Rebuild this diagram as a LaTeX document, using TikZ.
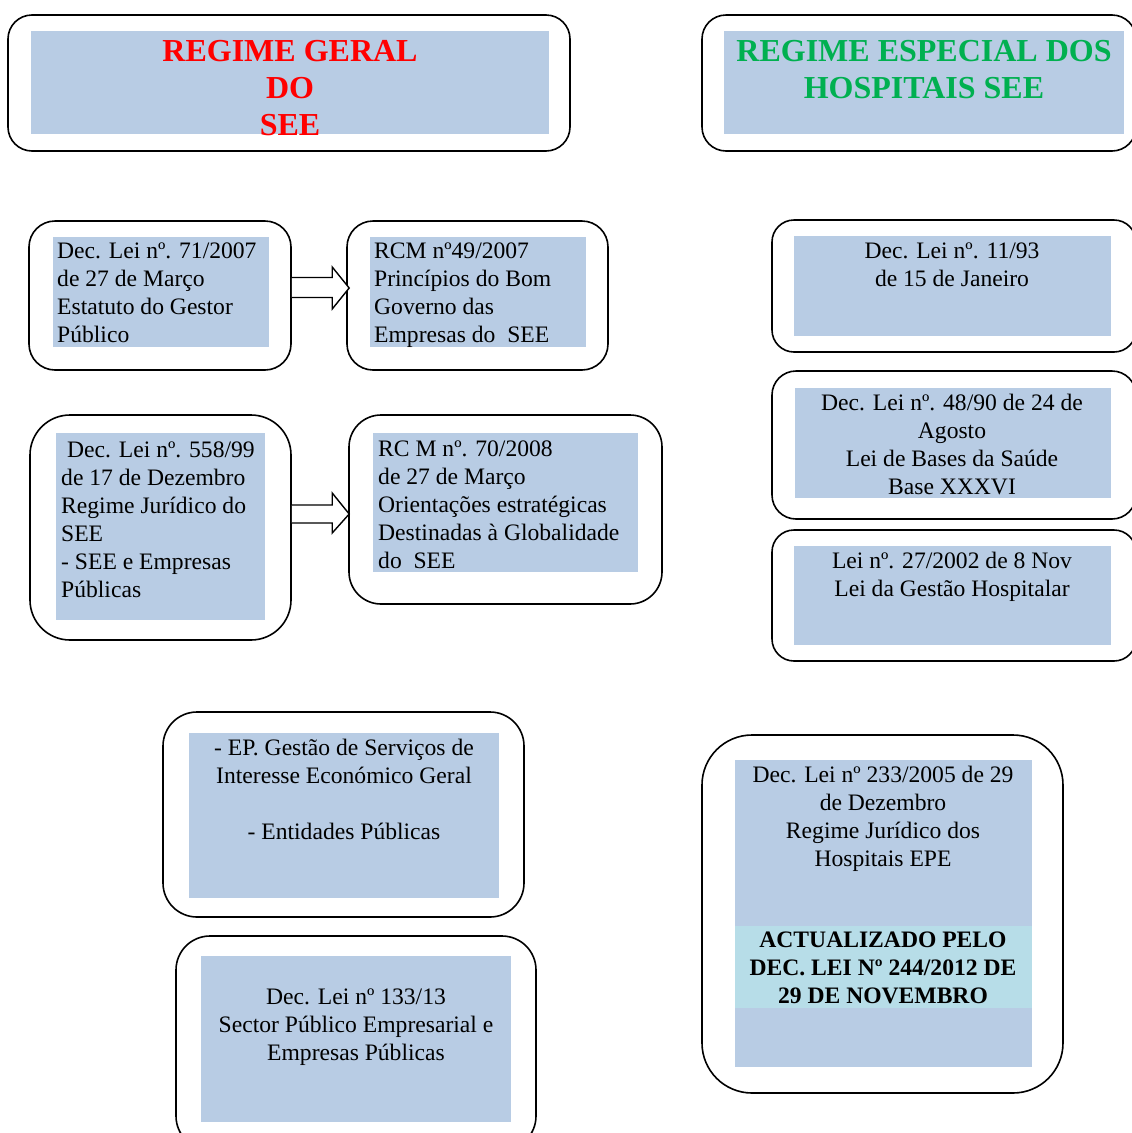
\documentclass[tikz,border=0pt]{standalone}
\usepackage{fontspec}
\setmainfont{Liberation Serif}
\usetikzlibrary{fit,calc}
\definecolor{boxblue}{HTML}{B8CCE4}
\definecolor{bandcyan}{HTML}{B7DDE8}
\definecolor{titlered}{HTML}{FF0000}
\definecolor{titlegreen}{HTML}{00B050}
\begin{document}
\begin{tikzpicture}[x=1pt,y=-1pt,
  outerbox/.style={draw=black, line width=1.6pt, inner sep=0pt, fill=white},
  innerbox/.style={fill=boxblue, inner sep=0pt},
  bandbox/.style={fill=bandcyan, inner sep=0pt},
  body/.style={inner sep=0pt, font=\fontsize{23.6}{28}\selectfont, execute at begin node=\strut},
  bodyL/.style={body, align=left, anchor=north west},
  bodyC/.style={body, align=center, anchor=north},
  titletext/.style={inner sep=0pt, align=center, anchor=north, font=\fontsize{32}{37}\selectfont\bfseries, execute at begin node=\strut},
  blockarrow/.style={draw=black, line width=1.4pt, fill=white, line join=miter}]
\useasboundingbox (0,0) rectangle (1132,1133);
\clip (0,0) rectangle (1132,1133);

% ---- titles
\node[outerbox, rounded corners=24pt, fit={(8,15) (570,151)}] (tL) {};
\node[innerbox, fit={(31,31) (549,134)}] (tLi) {};
\node[titletext, text=titlered] (tLt) at (290,40) {REGIME GERAL\\DO\\SEE};

\node[outerbox, rounded corners=24pt, fit={(702,15) (1136,151)}] (tR) {};
\node[innerbox, fit={(724,31) (1124,134)}] (tRi) {};
\node[titletext, text=titlegreen] (tRt) at (924,40) {REGIME ESPECIAL DOS\\HOSPITAIS SEE};

% ---- left column
\node[outerbox, rounded corners=26pt, fit={(29,221) (291,370)}] (A) {};
\node[innerbox, fit={(53,237) (269,347)}] (Ai) {};
\node[bodyL] (At) at (57,243) {Dec. Lei nº. 71/2007\\de 27 de Março\\Estatuto do Gestor\\Público};

\node[outerbox, rounded corners=26pt, fit={(347,221) (608,370)}] (B) {};
\node[innerbox, fit={(370,237) (586,347)}] (Bi) {};
\node[bodyL] (Bt) at (374,243) {RCM nº49/2007\\Princípios do Bom\\Governo das\\Empresas do\ \ SEE};

\node[outerbox, rounded corners=40pt, fit={(30,415) (291,640)}] (C) {};
\node[innerbox, fit={(56,433) (265,620)}] (Ci) {};
\node[bodyL] (Ct) at (61,442) {\hspace{6pt}Dec. Lei nº. 558/99\\de 17 de Dezembro\\Regime Jurídico do\\SEE\\- SEE e Empresas\\Públicas};

\node[outerbox, rounded corners=32pt, fit={(349,415) (662,604)}] (D) {};
\node[innerbox, fit={(373,433) (638,572)}] (Di) {};
\node[bodyL] (Dt) at (378,441) {RC M nº. 70/2008\\de 27 de Março\\Orientações estratégicas\\Destinadas à Globalidade\\do\ \ SEE};

% ---- block arrows
\draw[blockarrow] ($(A.east)+(0,-18)$) -- ($(B.west)+(-14,-18)$) -- ($(B.west)+(-14,-28.5)$)
  -- ($(B.west)+(3,-7.5)$) -- ($(B.west)+(-14,13.5)$) -- ($(B.west)+(-14,2)$) -- ($(A.east)+(0,2)$);
\draw[blockarrow] ($(C.east)+(0,-22.5)$) -- ($(D.west)+(-16,-4.5)$) -- ($(D.west)+(-16,-16.5)$)
  -- ($(D.west)+(1,4.5)$) -- ($(D.west)+(-16,23.5)$) -- ($(D.west)+(-16,13.5)$) -- ($(C.east)+(0,-4.5)$);

% ---- right column
\node[outerbox, rounded corners=22pt, fit={(772,220) (1136,352)}] (R1) {};
\node[innerbox, fit={(794,236) (1111,336)}] (R1i) {};
\node[bodyC] (R1t) at (952,243) {Dec. Lei nº. 11/93\\de 15 de Janeiro};

\node[outerbox, rounded corners=24pt, fit={(772,371) (1136,519)}] (R2) {};
\node[innerbox, fit={(795,388) (1111,498)}] (R2i) {};
\node[bodyC] (R2t) at (952,394) {Dec. Lei nº. 48/90 de 24 de\\Agosto\\Lei de Bases da Saúde\\Base XXXVI};

\node[outerbox, rounded corners=22pt, fit={(772,530) (1136,661)}] (R3) {};
\node[innerbox, fit={(794,546) (1111,645)}] (R3i) {};
\node[bodyC] (R3t) at (952,552) {Lei nº. 27/2002 de 8 Nov\\Lei da Gestão Hospitalar};

% ---- bottom
\node[outerbox, rounded corners=34pt, fit={(163,712) (524,917)}] (E) {};
\node[innerbox, fit={(189,733) (499,898)}] (Ei) {};
\node[bodyC] (Et) at (344,739) {- EP. Gestão de Serviços de\\Interesse Económico Geral\\[28pt]- Entidades Públicas};

\node[outerbox, rounded corners=34pt, fit={(176,936) (536,1150)}] (F) {};
\node[innerbox, fit={(201,956) (511,1122)}] (Fi) {};
\node[bodyC] (Ft) at (356,989) {Dec. Lei nº 133/13\\Sector Público Empresarial e\\Empresas Públicas};

\node[outerbox, rounded corners=50pt, fit={(702,735) (1063,1093)}] (G) {};
\node[innerbox, fit={(735,760) (1032,1067)}] (Gi) {};
\node[bandbox, fit={(735,926) (1032,1008)}] (Gb) {};
\node[bodyC] (Gt) at (883,766) {Dec. Lei nº 233/2005 de 29\\de Dezembro\\Regime Jurídico dos\\Hospitais EPE};
\node[bodyC, font=\fontsize{23.6}{28}\selectfont\bfseries] (Gbt) at (883,932) {ACTUALIZADO PELO\\DEC. LEI Nº 244/2012 DE\\29 DE NOVEMBRO};
\end{tikzpicture}
\end{document}
